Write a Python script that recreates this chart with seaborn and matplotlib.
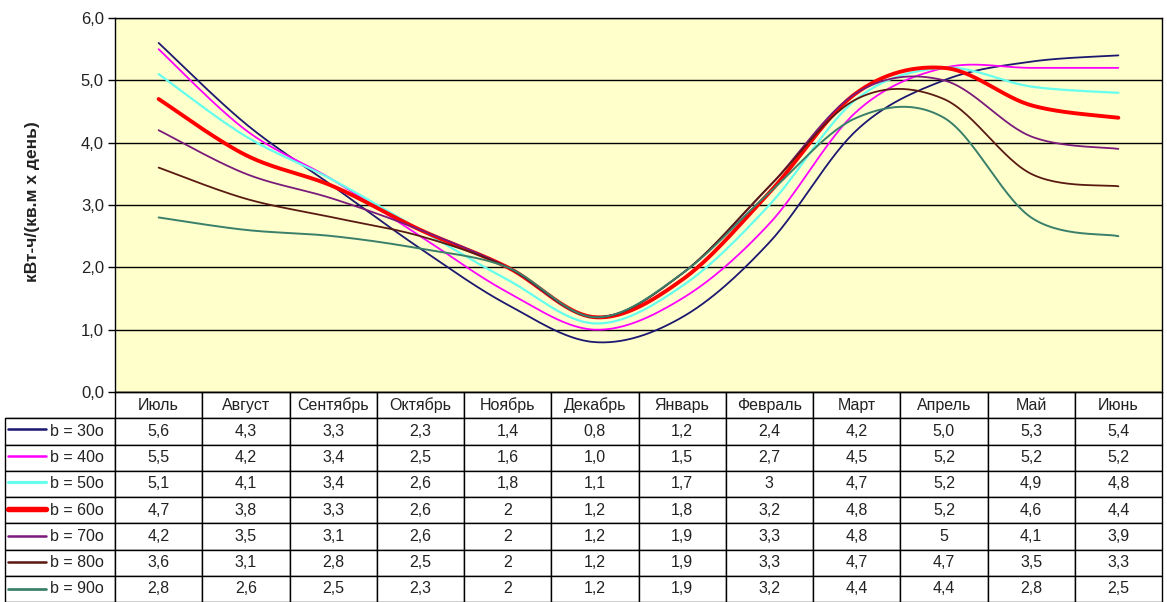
import numpy as np
import pandas as pd
import seaborn as sns
import matplotlib.pyplot as plt

months = ["Июль", "Август", "Сентябрь", "Октябрь", "Ноябрь", "Декабрь",
          "Январь", "Февраль", "Март", "Апрель", "Май", "Июнь"]
series_names = ["b = 30o", "b = 40o", "b = 50o", "b = 60o", "b = 70o", "b = 80o", "b = 90o"]

# values as written in the table
b30 = ["5,6", "4,3", "3,3", "2,3", "1,4", "0,8", "1,2", "2,4", "4,2", "5,0", "5,3", "5,4"]
b40 = ["5,5", "4,2", "3,4", "2,5", "1,6", "1,0", "1,5", "2,7", "4,5", "5,2", "5,2", "5,2"]
b50 = ["5,1", "4,1", "3,4", "2,6", "1,8", "1,1", "1,7", "3", "4,7", "5,2", "4,9", "4,8"]
b60 = ["4,7", "3,8", "3,3", "2,6", "2", "1,2", "1,8", "3,2", "4,8", "5,2", "4,6", "4,4"]
b70 = ["4,2", "3,5", "3,1", "2,6", "2", "1,2", "1,9", "3,3", "4,8", "5", "4,1", "3,9"]
b80 = ["3,6", "3,1", "2,8", "2,5", "2", "1,2", "1,9", "3,3", "4,7", "4,7", "3,5", "3,3"]
b90 = ["2,8", "2,6", "2,5", "2,3", "2", "1,2", "1,9", "3,2", "4,4", "4,4", "2,8", "2,5"]
table_rows = [b30, b40, b50, b60, b70, b80, b90]

colors = ["#1c1870", "#ff00ff", "#66ffee", "#ff0000", "#7a1a7a", "#5a1a12", "#3a7f6a"]
widths = [1.3, 1.3, 1.6, 2.8, 1.3, 1.3, 1.4]


def smooth(xs, ys, n=30):
    # Excel-style smoothed line (bezier with 1/6 tension)
    pts = np.column_stack([xs, ys])
    out = []
    for i in range(len(pts) - 1):
        p0 = pts[i - 1] if i > 0 else pts[i]
        p1, p2 = pts[i], pts[i + 1]
        p3 = pts[i + 2] if i + 2 < len(pts) else pts[i + 1]
        c1 = p1 + (p2 - p0) / 6
        c2 = p2 - (p3 - p1) / 6
        t = np.linspace(0, 1, n, endpoint=(i == len(pts) - 2))[:, None]
        out.append((1 - t) ** 3 * p1 + 3 * (1 - t) ** 2 * t * c1 + 3 * (1 - t) * t ** 2 * c2 + t ** 3 * p2)
    return np.vstack(out)


sns.set_style("white")
plt.rcParams["font.family"] = ["Liberation Sans", "DejaVu Sans"]
txt_color = "#222222"

fig = plt.figure(figsize=(11.67, 6.02), dpi=100)
W, H = 1167, 602
left, right, top, bottom = 115, 1162, 18, 392
ax = fig.add_axes([left / W, 1 - bottom / H, (right - left) / W, (bottom - top) / H])
ax.set_facecolor("#ffffcc")

xpos = np.arange(len(months))
for name, row, c, lw in zip(series_names, table_rows, colors, widths):
    vals = [float(v.replace(",", ".")) for v in row]
    curve = smooth(xpos, vals)
    df = pd.DataFrame({"x": curve[:, 0], "y": curve[:, 1]})
    sns.lineplot(data=df, x="x", y="y", ax=ax, color=c, linewidth=lw, sort=False)

ax.set_xlim(-0.5, 11.5)
ax.set_ylim(0, 6)
ax.set_yticks(np.arange(0, 6.01, 1))
ax.set_yticklabels([f"{v:.1f}".replace(".", ",") for v in np.arange(0, 6.01, 1)],
                   fontsize=12, color=txt_color)
ax.tick_params(axis="y", length=5, width=1, color="black", direction="out", pad=3, left=True)
ax.set_xticks([])
ax.set_xlabel("")
ax.set_ylabel("кВт-ч/(кв.м х день)", fontsize=12.5, fontweight="bold", color=txt_color)
ax.yaxis.set_label_coords((40 - left) / (right - left), 0.51)
ax.grid(axis="y", color="black", linewidth=1)
for s in ax.spines.values():
    s.set_color("black")
    s.set_linewidth(1)

# data table under the chart
tab_left = 5
cell_text = [[name] + row for name, row in zip(series_names, table_rows)]
col_labels = [""] + months
col_w = [(left - tab_left)] + [(right - left) / 12] * 12
tab = ax.table(cellText=cell_text, colLabels=col_labels, colWidths=col_w,
               cellLoc="center",
               bbox=[(tab_left - left) / (right - left), -(H - bottom) / (bottom - top),
                     (right - tab_left) / (right - left), (H - bottom) / (bottom - top)])
tab.auto_set_font_size(False)
tab.set_fontsize(11.5)
for (r, c), cell in tab.get_celld().items():
    cell.set_edgecolor("black")
    cell.set_linewidth(1)
    cell.set_facecolor("white")
    cell.get_text().set_color(txt_color)
    if r == 0 and c == 0:
        cell.visible_edges = "B"
    if c == 0 and r > 0:
        cell.get_text().set_horizontalalignment("left")
        cell.PAD = 45 / (left - tab_left)

# legend keys in first column
row_h = (H - bottom - 24) / 7
for i, (c, lw) in enumerate(zip(colors, widths)):
    yc = bottom + 24 + row_h * (i + 0.5)
    fig.add_artist(plt.Line2D([8 / W, 46 / W], [1 - yc / H, 1 - yc / H],
                              color=c, linewidth=lw * 1.4, transform=fig.transFigure))

fig.savefig("out.png", dpi=100)
